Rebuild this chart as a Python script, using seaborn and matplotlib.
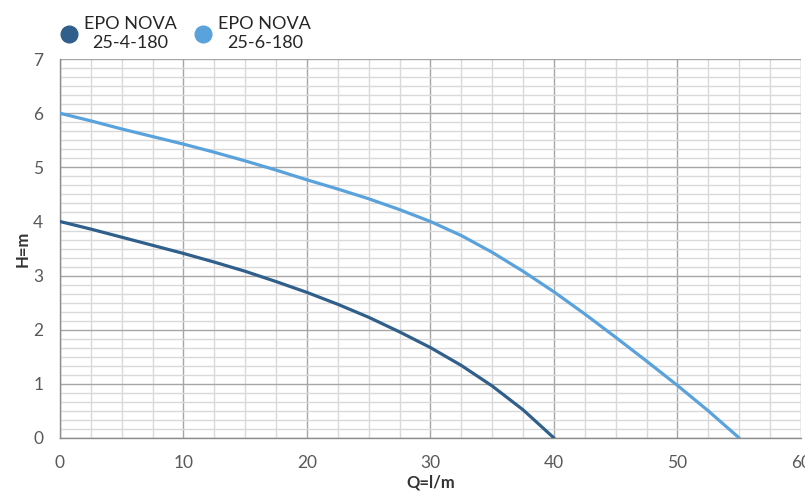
import numpy as np
import pandas as pd
import matplotlib
matplotlib.use("Agg")
import matplotlib.pyplot as plt
import seaborn as sns
from matplotlib.ticker import MultipleLocator
from matplotlib.lines import Line2D

# pump curves (Q in l/min, H in m)
q_small = [0, 2.5, 5, 7.5, 10, 12.5, 15, 17.5, 20, 22.5, 25, 27.5, 30, 32.5, 35, 37.5, 40]
h_small = [4.0, 3.86, 3.71, 3.56, 3.41, 3.25, 3.08, 2.89, 2.69, 2.47, 2.23, 1.96, 1.67, 1.34, 0.96, 0.52, 0.0]

q_big = [0, 2.5, 5, 7.5, 10, 12.5, 15, 17.5, 20, 22.5, 25, 27.5, 30, 32.5, 35, 37.5, 40,
         42.5, 45, 47.5, 50, 52.5, 55]
h_big = [6.0, 5.86, 5.71, 5.57, 5.43, 5.28, 5.12, 4.95, 4.77, 4.60, 4.42, 4.22, 4.00, 3.74,
         3.43, 3.08, 2.70, 2.29, 1.86, 1.42, 0.97, 0.50, 0.0]

names = ["EPO NOVA\n25-4-180", "EPO NOVA\n25-6-180"]
colors = ["#2F5F8A", "#5AA2DB"]

df = pd.concat([
    pd.DataFrame({"Q": q_small, "H": h_small, "pump": names[0]}),
    pd.DataFrame({"Q": q_big, "H": h_big, "pump": names[1]}),
])

sns.set_style("white")
plt.rcParams["font.family"] = ["Lato", "DejaVu Sans"]

fig = plt.figure(figsize=(8.05, 4.93), dpi=100)
ax = fig.add_axes([0.0745, 0.1116, 0.9205, 0.7684])

sns.lineplot(data=df, x="Q", y="H", hue="pump", palette=colors, linewidth=2.3,
             legend=False, ax=ax, sort=False, zorder=3)

ax.set_xlim(0, 60)
ax.set_ylim(0, 7)
ax.xaxis.set_major_locator(MultipleLocator(10))
ax.xaxis.set_minor_locator(MultipleLocator(2.5))
ax.yaxis.set_major_locator(MultipleLocator(1))
ax.yaxis.set_minor_locator(MultipleLocator(1 / 6))

ax.grid(which="major", color="#A6A6A6", linewidth=1.0, zorder=0)
ax.grid(which="minor", color="#D9D9D9", linewidth=1.0, zorder=0)
ax.set_axisbelow(True)

for s in ["top", "right"]:
    ax.spines[s].set_visible(False)
for s in ["left", "bottom"]:
    ax.spines[s].set_color("#8C8C8C")
    ax.spines[s].set_linewidth(1.0)

ax.tick_params(which="major", direction="out", length=6, color="#8C8C8C",
               labelsize=12.5, labelcolor="#595959", pad=6)
ax.tick_params(which="minor", direction="out", length=3, color="#A6A6A6")

ax.set_xlabel("Q=l/m", fontsize=12, fontweight="bold", color="#333333", labelpad=3)
ax.set_ylabel("H=m", fontsize=12, fontweight="bold", color="#333333", labelpad=2)

handles = [Line2D([], [], marker="o", linestyle="", markersize=12,
                  markerfacecolor=c, markeredgecolor=c) for c in colors]
leg = fig.legend(handles, names, loc="upper left", bbox_to_anchor=(0.053, 1.0),
                 ncol=2, frameon=False, fontsize=13, handletextpad=0.3,
                 columnspacing=0.9, handlelength=1.1)
for t in leg.get_texts():
    t.set_multialignment("center")
    t.set_color("#262626")

fig.savefig("out.png", dpi=100)
